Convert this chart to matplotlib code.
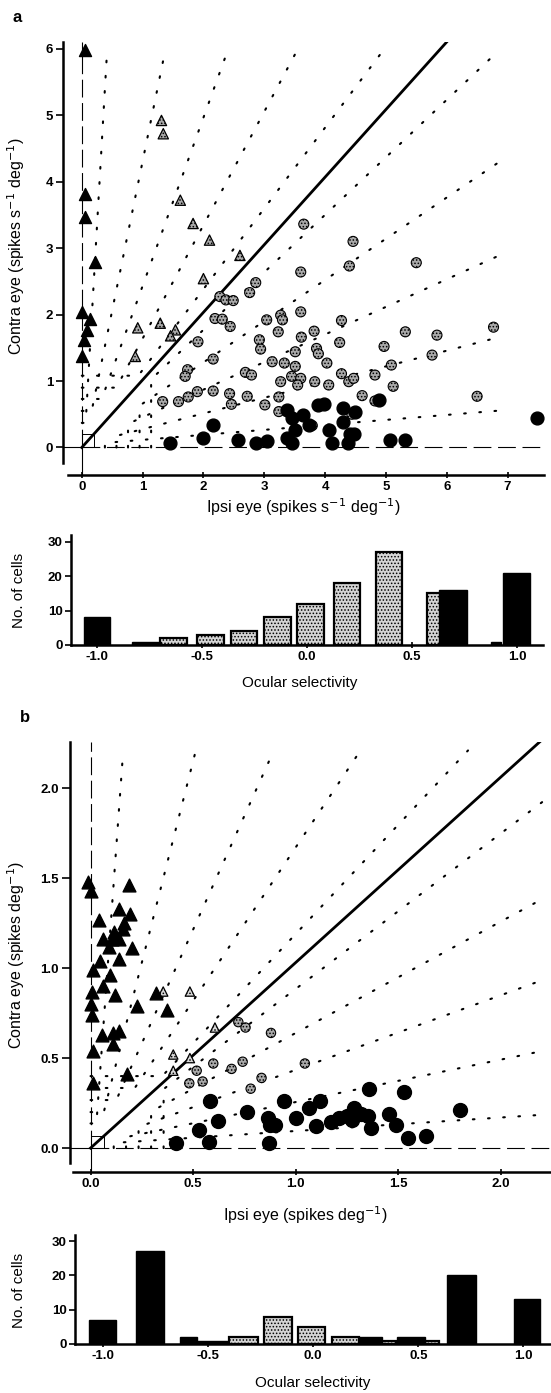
import matplotlib.pyplot as plt

plt.rcParams['font.family'] = ['Liberation Sans', 'DejaVu Sans']
plt.rcParams['hatch.linewidth'] = 0.7

# ---------------- panel a scatter ----------------
a_bt_x = [0.05, 0.05, 0.05, 0.22, 0.0, 0.13, 0.09, 0.03, 0.0]
a_bt_y = [5.98, 3.82, 3.47, 2.79, 2.04, 1.94, 1.77, 1.62, 1.38]

a_gt_x = [1.31, 1.34, 1.62, 1.83, 2.10, 2.60, 2.00, 1.29, 0.92, 1.54, 1.46, 0.88]
a_gt_y = [4.92, 4.72, 3.72, 3.37, 3.12, 2.89, 2.54, 1.87, 1.80, 1.77, 1.68, 1.37]

a_gc_x = [4.46, 3.60, 4.40, 5.50, 2.86, 2.76, 2.27, 2.37, 2.49, 2.19, 2.31, 2.44,
          3.04, 3.27, 3.30, 3.60, 3.23, 3.61, 3.82, 4.27, 4.24, 2.92, 2.94, 1.91,
          2.16, 1.74, 1.70, 3.51, 3.86, 3.89, 3.13, 3.33, 3.51, 4.03, 4.97, 5.32,
          5.84, 6.77, 5.76, 5.09, 2.69, 2.79, 3.27, 3.45, 3.60, 3.55, 3.83, 4.06,
          4.27, 4.39, 4.47, 4.82, 5.12, 6.50, 1.33, 1.59, 1.75, 1.90, 2.16, 2.43,
          2.46, 2.72, 3.01, 3.24, 3.24, 4.61, 4.82, 3.79, 4.44, 3.65]
a_gc_y = [3.10, 2.64, 2.73, 2.78, 2.48, 2.33, 2.27, 2.22, 2.21, 1.94, 1.93, 1.82,
          1.92, 1.99, 1.92, 2.04, 1.74, 1.66, 1.75, 1.91, 1.58, 1.62, 1.48, 1.59,
          1.33, 1.17, 1.07, 1.44, 1.49, 1.41, 1.29, 1.27, 1.22, 1.27, 1.52, 1.74,
          1.69, 1.81, 1.39, 1.24, 1.13, 1.09, 0.99, 1.07, 1.04, 0.94, 0.99, 0.94,
          1.11, 0.99, 1.04, 1.09, 0.92, 0.77, 0.69, 0.69, 0.76, 0.84, 0.85, 0.81,
          0.65, 0.77, 0.64, 0.76, 0.54, 0.78, 0.70, 0.33, 0.50, 3.36]

a_bc_x = [1.45, 1.99, 2.15, 2.57, 2.87, 3.04, 3.38, 3.45, 3.38, 3.45, 3.63, 3.89,
          3.99, 3.74, 4.06, 4.12, 4.30, 4.30, 4.41, 4.50, 4.47, 4.38, 4.88, 5.06,
          5.32, 7.48, 3.51]
a_bc_y = [0.07, 0.15, 0.34, 0.12, 0.07, 0.10, 0.15, 0.06, 0.56, 0.44, 0.49, 0.64,
          0.65, 0.34, 0.26, 0.06, 0.59, 0.39, 0.21, 0.54, 0.21, 0.07, 0.71, 0.12,
          0.12, 0.45, 0.26]

# ---------------- panel b scatter ----------------
b_bt_x = [-0.01, 0.0, 0.185, 0.043, 0.139, 0.19, 0.165, 0.113, 0.156, 0.061, 0.104,
          0.139, 0.092, 0.203, 0.047, 0.139, 0.012, 0.095, 0.061, 0.009, 0.121,
          0.0, 0.225, 0.009, 0.317, 0.372, 0.054, 0.11, 0.14, 0.11, 0.013, 0.176, 0.012]
b_bt_y = [1.48, 1.43, 1.46, 1.27, 1.33, 1.30, 1.25, 1.20, 1.22, 1.16, 1.16,
          1.16, 1.12, 1.11, 1.04, 1.05, 0.99, 0.96, 0.90, 0.87, 0.85,
          0.80, 0.79, 0.74, 0.86, 0.77, 0.63, 0.64, 0.65, 0.58, 0.54, 0.41, 0.36]

b_gt_x = [0.484, 0.354, 0.606, 0.403, 0.484, 0.403]
b_gt_y = [0.87, 0.87, 0.67, 0.52, 0.50, 0.43]

b_gc_x = [0.72, 0.755, 0.879, 1.044, 0.598, 0.741, 0.687, 0.517, 0.481, 0.546, 0.833, 0.78]
b_gc_y = [0.70, 0.67, 0.64, 0.47, 0.47, 0.48, 0.44, 0.43, 0.36, 0.37, 0.39, 0.33]

b_bc_x = [0.416, 0.528, 0.575, 0.623, 0.58, 0.762, 0.866, 0.875, 0.90, 0.871, 0.94,
          1.0, 1.065, 1.096, 1.117, 1.169, 1.212, 1.247, 1.282, 1.273, 1.316, 1.35,
          1.368, 1.455, 1.489, 1.547, 1.634, 1.798, 1.356, 1.527]
b_bc_y = [0.026, 0.10, 0.035, 0.15, 0.26, 0.20, 0.165, 0.13, 0.13, 0.026, 0.26,
          0.165, 0.22, 0.12, 0.26, 0.146, 0.165, 0.18, 0.22, 0.155, 0.19, 0.18,
          0.11, 0.19, 0.128, 0.054, 0.067, 0.21, 0.33, 0.31]

# iso-selectivity guide lines (slopes shared by both panels)
left_k = [0.063, 0.223, 0.395, 0.586, 0.823]
right_k = [0.075, 0.236, 0.415, 0.62, 0.865]
a_rows = [0.37, 0.55, 0.73, 0.90, 1.08]
a_cols = [0.38, 0.57, 0.76, 0.95, 1.14]
b_rows = [0.137, 0.20, 0.267, 0.334, 0.40]
b_cols = [0.113, 0.173, 0.234, 0.295, 0.356]

# ---------------- histograms ----------------
ha_gray_x = [-0.635, -0.46, -0.30, -0.14, 0.018, 0.19, 0.39, 0.635]
ha_gray_n = [2, 3, 4, 8, 12, 18, 27, 15]
ha_gray_w = [0.127] * 8
ha_black_x = [-1.0, -0.765, 0.695, 0.90, 0.998]
ha_black_n = [8, 1, 16, 1, 21]
ha_black_w = [0.127, 0.135, 0.13, 0.048, 0.13]

hb_gray_x = [-0.33, -0.168, -0.007, 0.155, 0.362, 0.565]
hb_gray_n = [2, 8, 5, 2, 1, 1]
hb_gray_w = [0.135, 0.132, 0.13, 0.127, 0.067, 0.068]
hb_black_x = [-1.0, -0.775, -0.592, -0.478, 0.274, 0.466, 0.705, 1.017]
hb_black_n = [7, 27, 2, 1, 2, 2, 20, 13]
hb_black_w = [0.13, 0.13, 0.084, 0.144, 0.11, 0.13, 0.135, 0.127]

W, H = 551, 1393
fig = plt.figure(figsize=(W / 100, H / 100), dpi=100)

GRAY = '#a9a9a9'
DOT = (0, (0.8, 6.5))
LAB = 11.5
TICK = 9.5


def ax_at(left, top, right, bottom):
    return fig.add_axes([left / W, 1 - bottom / H, (right - left) / W, (bottom - top) / H])


def style(ax, xlim, ylim, xb, yb, xticks, yticks, xfmt, yfmt, tlen=4):
    ax.set_xlim(xlim)
    ax.set_ylim(ylim)
    for s in ['top', 'right']:
        ax.spines[s].set_visible(False)
    ax.spines['left'].set_bounds(*yb)
    ax.spines['bottom'].set_bounds(*xb)
    for s in ['left', 'bottom']:
        ax.spines[s].set_linewidth(1.8)
    ax.set_xticks(xticks)
    ax.set_yticks(yticks)
    ax.set_xticklabels([xfmt.format(v) for v in xticks], fontweight='bold')
    ax.set_yticklabels([yfmt.format(v) for v in yticks], fontweight='bold')
    ax.tick_params(axis='y', direction='out', length=tlen, width=1.2, labelsize=TICK, pad=2)
    ax.tick_params(axis='x', direction='inout', length=5, width=1.2, labelsize=TICK, pad=2)
    ax.patch.set_alpha(0)


def guides(ax, c, top_y, right_x, rows, cols, box, diag):
    for k, t in zip(left_k, rows):
        ax.plot([0, c + k * t, c + k * top_y], [t, t, top_y], ls=DOT, lw=1.5,
                color='k', dash_capstyle='round', zorder=1)
    for k, t in zip(right_k, cols):
        ax.plot([t, t, right_x], [0, c + k * t, c + k * right_x], ls=DOT, lw=1.5,
                color='k', dash_capstyle='round', zorder=1)
    ax.plot([0, box, box], [box, box, 0], color='k', lw=0.7, zorder=1)
    ax.plot(diag[0], diag[1], color='k', lw=2.0, zorder=2)


def axes_dashes(ax, xlim, ylim, top, right):
    ax.plot([0, 0], [ylim[0], 0], color='k', lw=0.8, zorder=1)
    ax.plot([xlim[0], 0], [0, 0], color='k', lw=0.8, zorder=1)
    ax.plot([0, 0], [0, top], color='k', lw=0.8, ls=(0, (16, 5)), zorder=1)
    ax.plot([0, right], [0, 0], color='k', lw=0.8, ls=(0, (16, 6)), zorder=1)


# ---- panel a
axA = ax_at(63, 42, 544, 475)
xa, ya = (-0.309, 7.60), (-0.414, 6.10)
style(axA, xa, ya, (-0.235, 7.60), (-0.24, 6.10), range(8), range(7), '{}', '{}', tlen=5)
axes_dashes(axA, xa, ya, 6.10, 7.60)
guides(axA, 0.04, 6.0, 6.85, a_rows, a_cols, 0.2, ([0, 6.0], [0, 6.1]))
axA.scatter(a_gc_x, a_gc_y, s=52, facecolor=GRAY, edgecolor='k', lw=0.8, hatch='.....', zorder=3)
axA.scatter(a_bc_x, a_bc_y, s=85, color='k', zorder=4)
axA.scatter(a_gt_x, a_gt_y, s=55, marker='^', facecolor=GRAY, edgecolor='k', lw=0.9,
            hatch='.....', zorder=3)
axA.scatter(a_bt_x, a_bt_y, s=75, marker='^', color='k', zorder=4)

fig.text(17 / W, 1 - 17 / H, 'a', fontsize=12, fontweight='bold', ha='center', va='center')
fig.text(16 / W, 1 - 246 / H, 'Contra eye (spikes s$^{-1}$ deg$^{-1}$)', rotation=90,
         fontsize=LAB, ha='center', va='center')
fig.text(303 / W, 1 - 507 / H, 'Ipsi eye (spikes s$^{-1}$ deg$^{-1}$)',
         fontsize=LAB, ha='center', va='center')

# ---- histogram a
axHA = ax_at(71, 535, 543, 645)
xha, yha = (-1.124, 1.124), (0, 31.9)
style(axHA, xha, yha, xha, yha, [-1.0, -0.5, 0.0, 0.5, 1.0], [0, 10, 20, 30],
      '{:.1f}', '{}')
axHA.bar(ha_gray_x, ha_gray_n, width=ha_gray_w, facecolor='#d4d4d4', edgecolor='k',
         lw=1.6, hatch='.....', zorder=2)
axHA.bar(ha_black_x, ha_black_n, width=ha_black_w, facecolor='k', edgecolor='k',
         lw=1.0, zorder=3)
fig.text(19 / W, 1 - 590 / H, 'No. of cells', rotation=90, fontsize=11,
         ha='center', va='center')
fig.text(300 / W, 1 - 683 / H, 'Ocular selectivity', fontsize=11, ha='center', va='center')

# ---- panel b
axB = ax_at(70, 742, 551, 1172)
xb, yb = (-0.10, 2.243), (-0.133, 2.257)
style(axB, xb, yb, (-0.086, 2.243), (-0.083, 2.257), [0.0, 0.5, 1.0, 1.5, 2.0],
      [0.0, 0.5, 1.0, 1.5, 2.0], '{:.1f}', '{:.1f}', tlen=6)
axes_dashes(axB, xb, yb, 2.257, 2.243)
guides(axB, 0.02, 2.21, 2.21, b_rows, b_cols, 0.065, ([0, 2.2], [0, 2.27]))
axB.scatter(b_gc_x, b_gc_y, s=45, facecolor=GRAY, edgecolor='k', lw=0.8, hatch='.....', zorder=3)
axB.scatter(b_bc_x, b_bc_y, s=100, color='k', zorder=4)
axB.scatter(b_gt_x, b_gt_y, s=45, marker='^', facecolor='#d8d8d8', edgecolor='k', lw=0.9,
            hatch='.....', zorder=3)
axB.scatter(b_bt_x, b_bt_y, s=85, marker='^', color='k', zorder=4)

fig.text(25 / W, 1 - 718 / H, 'b', fontsize=12, fontweight='bold', ha='center', va='center')
fig.text(16 / W, 1 - 955 / H, 'Contra eye (spikes deg$^{-1}$)', rotation=90,
         fontsize=LAB, ha='center', va='center')
fig.text(305 / W, 1 - 1215 / H, 'Ipsi eye (spikes deg$^{-1}$)',
         fontsize=LAB, ha='center', va='center')

# ---- histogram b
axHB = ax_at(75, 1235, 551, 1344)
xhb, yhb = (-1.132, 1.131), (0, 31.8)
style(axHB, xhb, yhb, xhb, yhb, [-1.0, -0.5, 0.0, 0.5, 1.0], [0, 10, 20, 30],
      '{:.1f}', '{}')
axHB.bar(hb_gray_x, hb_gray_n, width=hb_gray_w, facecolor='#d4d4d4', edgecolor='k',
         lw=1.6, hatch='.....', zorder=2)
axHB.bar(hb_black_x, hb_black_n, width=hb_black_w, facecolor='k', edgecolor='k',
         lw=1.0, zorder=3)
fig.text(19 / W, 1 - 1290 / H, 'No. of cells', rotation=90, fontsize=11,
         ha='center', va='center')
fig.text(313 / W, 1 - 1383 / H, 'Ocular selectivity', fontsize=11, ha='center', va='center')

fig.savefig('out.png', dpi=100)
